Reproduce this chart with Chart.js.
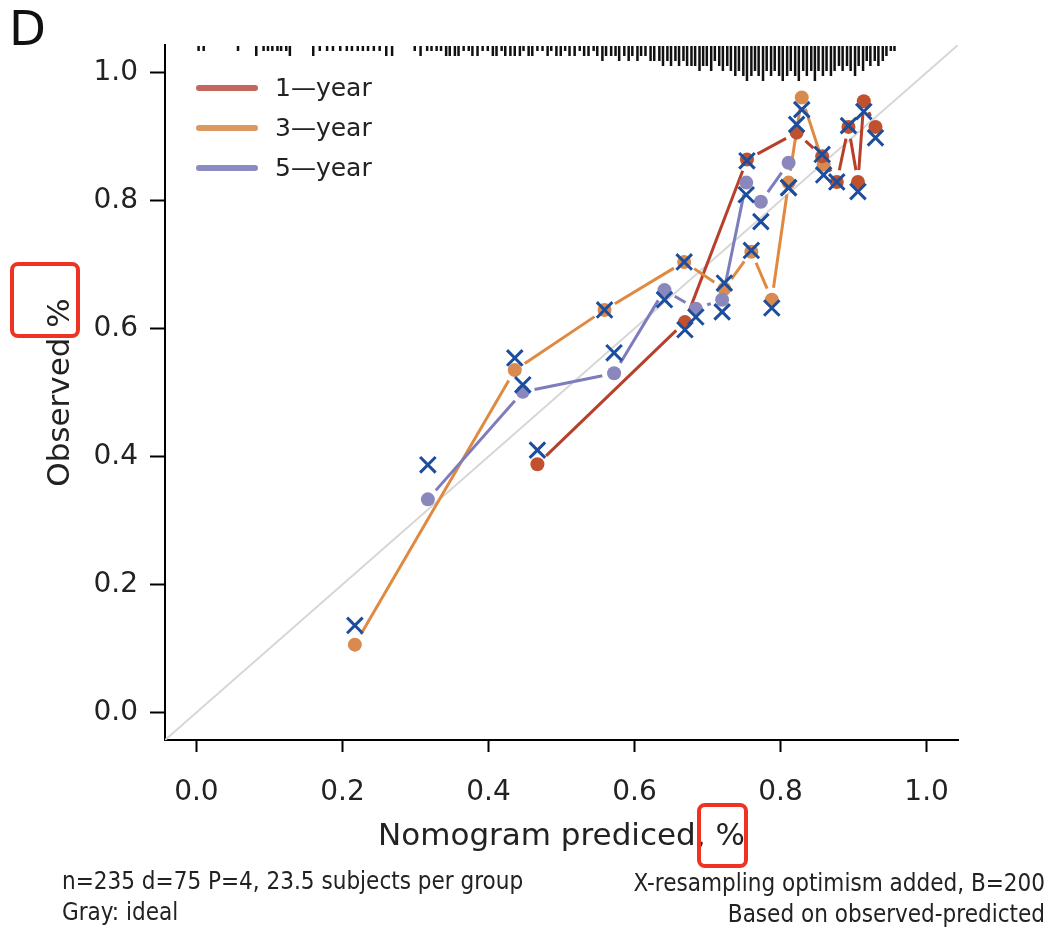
<!DOCTYPE html>
<html>
<head>
<meta charset="utf-8">
<title>Calibration curve D</title>
<script src="https://cdn.jsdelivr.net/npm/chart.js@4.4.1/dist/chart.umd.min.js"></script>
<style>
  html, body { margin: 0; padding: 0; background: #fff; }
  #wrap { position: relative; width: 1050px; height: 934px; overflow: hidden; }
  #chart { position: absolute; left: 0; top: 0; }
  .panel { position: absolute; left: 9px; top: 4px; font: 48px "DejaVu Sans", sans-serif; line-height: 48px; color: #111; }
  .note { position: absolute; font: 24px "DejaVu Sans Condensed", "Liberation Sans Narrow", "Liberation Sans", sans-serif; line-height: 28px; color: #222; white-space: nowrap; }
  .box { position: absolute; border: 4px solid #ee3322; border-radius: 8px; box-sizing: border-box; }
</style>
</head>
<body>
<div id="wrap">
  <canvas id="chart" width="1050" height="934"></canvas>
  <div class="panel">D</div>
  <div class="note" style="left:62px; top:867px;">n=235 d=75 P=4, 23.5 subjects per group</div>
  <div class="note" style="left:62px; top:898px;">Gray: ideal</div>
  <div class="note" style="right:5px; top:869px;">X-resampling optimism added, B=200</div>
  <div class="note" style="right:5px; top:900px;">Based on observed-predicted</div>
  <div class="box" style="left:10px; top:262px; width:70px; height:76px;"></div>
  <div class="box" style="left:697px; top:803px; width:51px; height:65px;"></div>
</div>
<script>
// ---- data ----
const seriesNames = ["1\u2014year", "3\u2014year", "5\u2014year"];

// 1-year
const pred1 = [0.467, 0.669, 0.754, 0.822, 0.857, 0.877, 0.893, 0.906, 0.914, 0.930];
const obs1  = [0.388, 0.610, 0.864, 0.906, 0.869, 0.829, 0.915, 0.829, 0.955, 0.915];
const corr1 = [0.410, 0.598, 0.862, 0.919, 0.872, 0.829, 0.917, 0.814, 0.939, 0.898];

// 3-year
const pred3 = [0.217, 0.436, 0.559, 0.668, 0.723, 0.760, 0.788, 0.811, 0.829, 0.859];
const obs3  = [0.106, 0.535, 0.629, 0.704, 0.662, 0.720, 0.645, 0.828, 0.961, 0.856];
const corr3 = [0.136, 0.554, 0.629, 0.704, 0.671, 0.722, 0.632, 0.820, 0.942, 0.840];

// 5-year
const pred5 = [0.317, 0.447, 0.572, 0.641, 0.684, 0.720, 0.753, 0.773, 0.811];
const obs5  = [0.333, 0.501, 0.530, 0.660, 0.631, 0.645, 0.828, 0.798, 0.859];
const corr5 = [0.387, 0.512, 0.562, 0.645, 0.618, 0.626, 0.809, 0.767, 0.820];

const idealLine = [-0.043, 1.043];
const xTicks = [0, 0.2, 0.4, 0.6, 0.8, 1.0];
const yTicks = [0, 0.2, 0.4, 0.6, 0.8, 1.0];

// spike histogram of predicted values along the top
const rugX = [
  0.003, 0.010, 0.057, 0.082, 0.092, 0.098, 0.104, 0.111, 0.116, 0.123, 0.128,
  0.160, 0.169, 0.179, 0.187, 0.197, 0.206, 0.213, 0.221, 0.228, 0.235, 0.243, 0.251, 0.260, 0.268,
  0.299, 0.307, 0.316, 0.322, 0.329, 0.335, 0.342, 0.347, 0.354, 0.359, 0.366, 0.373, 0.378, 0.385,
  0.392, 0.399, 0.406, 0.411, 0.418, 0.423, 0.430, 0.436, 0.443, 0.448, 0.455, 0.460, 0.467, 0.474,
  0.481, 0.486, 0.493, 0.499, 0.505, 0.511, 0.518, 0.525, 0.531, 0.537, 0.544, 0.549, 0.556, 0.561,
  0.568, 0.574, 0.579, 0.586, 0.592, 0.597, 0.604, 0.609, 0.615, 0.622, 0.627,
  0.634, 0.639, 0.645, 0.650, 0.656, 0.661, 0.667, 0.672, 0.678, 0.683, 0.689, 0.694, 0.699, 0.705,
  0.710, 0.716, 0.721, 0.727, 0.732, 0.738, 0.743, 0.749, 0.754, 0.760, 0.765, 0.770, 0.776, 0.781,
  0.787, 0.792, 0.798, 0.803, 0.809, 0.814, 0.820, 0.825, 0.831, 0.836, 0.842, 0.847, 0.852, 0.858,
  0.863, 0.869, 0.874, 0.880, 0.885, 0.891, 0.896, 0.902, 0.907, 0.913, 0.918, 0.923, 0.929, 0.934,
  0.940, 0.945, 0.951, 0.956
];
const rugN = [
  1, 1, 1, 2, 1, 1, 1, 1, 1, 1, 2,
  2, 1, 1, 1, 1, 1, 1, 1, 1, 1, 1, 1, 2, 2,
  1, 2, 1, 1, 1, 1, 2, 2, 2, 2, 1, 1, 2, 2,
  1, 1, 2, 2, 1, 2, 2, 2, 2, 1, 2, 2, 1, 1,
  2, 1, 2, 2, 1, 2, 2, 1, 2, 2, 1, 2, 3, 2,
  2, 2, 3, 2, 3, 2, 3, 2, 2, 3, 3,
  3, 4, 3, 4, 3, 4, 3, 4, 4, 4, 5, 4, 4, 5,
  3, 4, 5, 4, 5, 6, 5, 6, 7, 6, 5, 6, 7, 5,
  6, 5, 6, 7, 6, 5, 6, 7, 5, 6, 5, 7, 5, 6,
  5, 6, 5, 4, 5, 4, 5, 6, 4, 5, 3, 4, 3, 4,
  3, 2, 1, 1
];

// ---- styles ----
const lineColors = ["#b8402a", "#df8a40", "#7d7cbc"];
const dotColors = ["#c1502f", "#d98a4e", "#8a87bd"];
const legendColors = ["#c3675f", "#dc995f", "#8b8bc3"];
const crossColor = "#1d4e9e";
const FONT = "'DejaVu Sans', 'Liberation Sans', sans-serif";

const groups = [
  { x: pred1, y: obs1, c: corr1 },
  { x: pred3, y: obs3, c: corr3 },
  { x: pred5, y: obs5, c: corr5 },
];

const pts = (xs, ys) => xs.map((v, i) => ({ x: v, y: ys[i] }));

const datasets = [];
groups.forEach((g, i) => {
  datasets.push({
    label: seriesNames[i] + " corrected",
    data: pts(g.x, g.c),
    order: 1,
    pointStyle: "crossRot",
    pointRadius: 11,
    pointBorderWidth: 3,
    pointBorderColor: crossColor,
    pointBackgroundColor: crossColor,
  });
});
// red dots sit on top of the other dots
const dotOrder = [2, 2.2, 2.1];
groups.forEach((g, i) => {
  datasets.push({
    label: seriesNames[i],
    data: pts(g.x, g.y),
    order: dotOrder[i],
    pointStyle: "circle",
    pointRadius: 7,
    pointBorderWidth: 0,
    pointBackgroundColor: dotColors[i],
  });
});
datasets.push({
  label: "ideal",
  data: pts(idealLine, idealLine),
  order: 5,
  showLine: true,
  pointRadius: 0,
  borderColor: "#d6d6d6",
  borderWidth: 2,
});

// lines between points with a gap at each end (R type = "b")
const gapLines = {
  id: "gapLines",
  afterDatasetDraw(chart, args) {
    if (chart.data.datasets[args.index].label !== "ideal") return;
    const ctx = chart.ctx, xs = chart.scales.x, ys = chart.scales.y;
    const gap = 12;
    ctx.save();
    ctx.lineWidth = 3;
    groups.forEach((g, i) => {
      ctx.strokeStyle = lineColors[i];
      for (let k = 1; k < g.x.length; k++) {
        const x0 = xs.getPixelForValue(g.x[k - 1]), y0 = ys.getPixelForValue(g.y[k - 1]);
        const x1 = xs.getPixelForValue(g.x[k]), y1 = ys.getPixelForValue(g.y[k]);
        const d = Math.hypot(x1 - x0, y1 - y0);
        if (d <= 2 * gap + 1) continue;
        const ux = (x1 - x0) / d, uy = (y1 - y0) / d;
        ctx.beginPath();
        ctx.moveTo(x0 + ux * gap, y0 + uy * gap);
        ctx.lineTo(x1 - ux * gap, y1 - uy * gap);
        ctx.stroke();
      }
    });
    ctx.restore();
  },
};

// spikes hanging from the top of the plot
const rugPlot = {
  id: "rugPlot",
  afterDatasetsDraw(chart) {
    const ctx = chart.ctx, xs = chart.scales.x, top = chart.chartArea.top;
    ctx.save();
    ctx.strokeStyle = "#111";
    ctx.lineWidth = 2.5;
    rugX.forEach((v, i) => {
      const px = xs.getPixelForValue(v);
      ctx.beginPath();
      ctx.moveTo(px, top + 1);
      ctx.lineTo(px, top + 1 + rugN[i] * 5);
      ctx.stroke();
    });
    ctx.restore();
  },
};

// legend in the upper-left corner of the plot
const cornerLegend = {
  id: "cornerLegend",
  afterDraw(chart) {
    const ctx = chart.ctx;
    const left = chart.chartArea.left + 31, top = chart.chartArea.top + 43;
    ctx.save();
    ctx.lineCap = "round";
    ctx.lineWidth = 6;
    ctx.font = "25px " + FONT;
    ctx.textBaseline = "middle";
    ctx.fillStyle = "#222";
    seriesNames.forEach((name, i) => {
      const y = top + i * 40;
      ctx.strokeStyle = legendColors[i];
      ctx.beginPath();
      ctx.moveTo(left + 3, y);
      ctx.lineTo(left + 59, y);
      ctx.stroke();
      ctx.fillText(name, left + 79, y + 1);
    });
    ctx.restore();
  },
};

new Chart(document.getElementById("chart"), {
  type: "scatter",
  data: { datasets },
  options: {
    responsive: false,
    animation: false,
    events: [],
    layout: { padding: { top: 45, right: 92, left: 0, bottom: 0 } },
    plugins: { legend: { display: false }, tooltip: { enabled: false } },
    scales: {
      x: {
        type: "linear",
        min: idealLine[0],
        max: idealLine[1],
        afterBuildTicks: (s) => { s.ticks = xTicks.map((v) => ({ value: v })); },
        afterFit: (s) => { s.height = 194; },
        grid: { drawOnChartArea: false, tickLength: 12, tickColor: "#000", tickWidth: 2 },
        border: { color: "#000", width: 2 },
        ticks: { font: { family: FONT, size: 28 }, color: "#222", padding: 24, maxRotation: 0,
                 callback: (v) => v.toFixed(1) },
        title: { display: true, text: "Nomogram prediced, %", color: "#222",
                 font: { family: FONT, size: 31 }, padding: { top: 0, bottom: 78 } },
      },
      y: {
        type: "linear",
        min: idealLine[0],
        max: idealLine[1],
        afterBuildTicks: (s) => { s.ticks = yTicks.map((v) => ({ value: v })); },
        afterFit: (s) => { s.width = 165; },
        grid: { drawOnChartArea: false, tickLength: 15, tickColor: "#000", tickWidth: 2 },
        border: { color: "#000", width: 2 },
        ticks: { font: { family: FONT, size: 28 }, color: "#222", padding: 12,
                 callback: (v) => v.toFixed(1) },
        title: { display: true, text: "Observed %", color: "#222",
                 font: { family: FONT, size: 31 }, padding: { top: 42, bottom: 0 } },
      },
    },
  },
  plugins: [gapLines, rugPlot, cornerLegend],
});
</script>
</body>
</html>
